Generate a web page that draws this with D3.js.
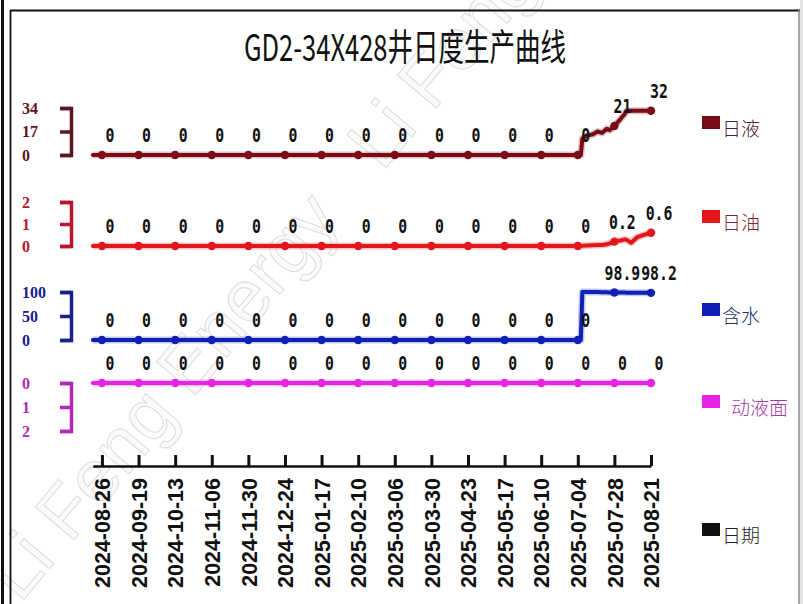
<!DOCTYPE html>
<html>
<head>
<meta charset="utf-8">
<script src="https://cdn.jsdelivr.net/npm/d3@7"></script>
<style>
body { margin: 0; background: #fff; }
</style>
</head>
<body>
<div class="diagram"></div>
<script>
const title = "GD2-34X428井日度生产曲线";

// sample dates (first one only starts the line, ticks carry markers + labels)
const dates = ["2024-08-20", "2024-08-26", "2024-09-19", "2024-10-13", "2024-11-06", "2024-11-30",
    "2024-12-24", "2025-01-17", "2025-02-10", "2025-03-06", "2025-03-30", "2025-04-23",
    "2025-05-17", "2025-06-10", "2025-07-04", "2025-07-06", "2025-07-07", "2025-07-10",
    "2025-07-14", "2025-07-17", "2025-07-20", "2025-07-23", "2025-07-25", "2025-07-28",
    "2025-08-01", "2025-08-04", "2025-08-05", "2025-08-08", "2025-08-12", "2025-08-16", "2025-08-21"];

const tickDates = ["2024-08-26", "2024-09-19", "2024-10-13", "2024-11-06", "2024-11-30", "2024-12-24",
    "2025-01-17", "2025-02-10", "2025-03-06", "2025-03-30", "2025-04-23", "2025-05-17",
    "2025-06-10", "2025-07-04", "2025-07-28", "2025-08-21"];

const liquid = [0, 0, 0, 0, 0, 0, 0, 0, 0, 0, 0, 0, 0, 0, 0,
    0, 12, 14, 15, 17, 16, 19, 18, 21, 26, 30, 32, 32, 32, 32, 32];
const oil = [0, 0, 0, 0, 0, 0, 0, 0, 0, 0, 0, 0, 0, 0, 0,
    0, 0.01, 0.02, 0.03, 0.04, 0.05, 0.08, 0.12, 0.2, 0.25, 0.3, 0.28, 0.15, 0.4, 0.5, 0.6];
const water = [0, 0, 0, 0, 0, 0, 0, 0, 0, 0, 0, 0, 0, 0, 0,
    0, 100, 100, 100, 99.8, 99.5, 99.3, 99.1, 98.9, 98.8, 98.7, 98.6, 98.5, 98.4, 98.3, 98.2];
const fluidLevel = [0, 0, 0, 0, 0, 0, 0, 0, 0, 0, 0, 0, 0, 0, 0,
    0, 0, 0, 0, 0, 0, 0, 0, 0, 0, 0, 0, 0, 0, 0, 0];

const seriesNames = ["日液", "日油", "含水", "动液面"];
const seriesValues = [liquid, oil, water, fluidLevel];
const axisTicks = [[0, 17, 34], [0, 1, 2], [0, 50, 100], [0, 1, 2]];
const legendNames = ["日液", "日油", "含水", "动液面", "日期"];

const lineColors = ["#7a0c18", "#e3161c", "#1020b4", "#e624e6"];
const axisColors = ["#5e1622", "#b8162c", "#18208e", "#b428b4"];
const legendBox = ["#7a0c18", "#e3161c", "#1020b4", "#e624e6", "#111"];
const legendText = ["#4a2232", "#7c2630", "#232f6c", "#a43aa6", "#222"];

// each band: y of value 0 and y of max value (fluid level is drawn downward)
const bands = [
    { zero: 155, top: 108 },
    { zero: 246, top: 202 },
    { zero: 340, top: 292 },
    { zero: 383, top: 431 }
];
const legendY = [122, 216, 309, 401, 529];

const width = 803, height = 604;
const parse = d3.utcParse("%Y-%m-%d");

const svg = d3.select(".diagram").append("svg")
    .attr("width", width).attr("height", height)
    .style("display", "block");

// watermark
svg.append("text")
    .attr("transform", "translate(20,604) rotate(-50)")
    .attr("xml:space", "preserve")
    .style("font-family", "Liberation Sans, sans-serif")
    .style("font-size", "74px")
    .style("fill", "#fbfbfb")
    .style("stroke", "#dedede")
    .style("stroke-width", 1.1)
    .text("Li Feng Energy   Li Feng");

// frame
svg.append("rect").attr("x", 1).attr("y", 0).attr("width", 3).attr("height", height).style("fill", "#111");
svg.append("line").attr("x1", 10.5).attr("x2", 10.5).attr("y1", 10).attr("y2", height).style("stroke", "#111").style("stroke-width", 1.8);
svg.append("line").attr("x1", 10).attr("x2", 800).attr("y1", 10.5).attr("y2", 10.5).style("stroke", "#111").style("stroke-width", 1.8);
svg.append("line").attr("x1", 799).attr("x2", 799).attr("y1", 10).attr("y2", height).style("stroke", "#888").style("stroke-width", 1.5);
svg.append("rect").attr("x", 800).attr("y", 0).attr("width", 3).attr("height", height).style("fill", "#e4e4e4");

// title
svg.append("text")
    .attr("x", 244).attr("y", 61)
    .attr("textLength", 322).attr("lengthAdjust", "spacingAndGlyphs")
    .style("font-family", "Noto Sans CJK SC, sans-serif")
    .style("font-size", "37px")
    .style("fill", "#111")
    .text(title);

const x = d3.scaleUtc()
    .domain([parse(dates[0]), parse(dates[dates.length - 1])])
    .range([92.8, 651]);

// x axis with upward ticks
const xAxis = svg.append("g")
    .attr("transform", "translate(0,466)")
    .call(d3.axisBottom(x)
        .tickValues(tickDates.map(parse))
        .tickSizeInner(-11).tickSizeOuter(0)
        .tickFormat(d3.utcFormat("%Y-%m-%d")));
xAxis.select(".domain").style("stroke", "#111").style("stroke-width", 2.5);
xAxis.selectAll(".tick line").style("stroke", "#111").style("stroke-width", 3);
xAxis.selectAll(".tick text")
    .attr("transform", "rotate(-90)")
    .attr("x", -12).attr("y", 0).attr("dy", "0.36em")
    .style("text-anchor", "end")
    .style("font-family", "Liberation Sans, Arial, sans-serif")
    .style("font-weight", "bold")
    .style("font-size", "21.5px")
    .style("fill", "#111");

const tickSet = new Set(tickDates);

seriesValues.forEach(function (values, k) {
    const band = bands[k];
    const ticks = axisTicks[k];
    const y = d3.scaleLinear().domain([0, ticks[ticks.length - 1]]).range([band.zero, band.top]);

    // bracket-shaped axis
    const yAxis = svg.append("g")
        .attr("transform", "translate(71,0)")
        .call(d3.axisLeft(y).tickValues(ticks).tickSizeInner(11).tickSizeOuter(11).tickFormat(""));
    yAxis.selectAll("path, line").style("stroke", axisColors[k]).style("stroke-width", 3.5);

    svg.selectAll(null).data(ticks).enter().append("text")
        .attr("x", 22).attr("y", d => y(d))
        .attr("dy", "0.36em")
        .style("font-family", "Liberation Serif, serif")
        .style("font-weight", "bold")
        .style("font-size", "16px")
        .style("fill", axisColors[k])
        .text(d => d);

    const points = dates.map((d, i) => ({ date: d, t: parse(d), v: values[i] }));
    const line = d3.line().x(d => x(d.t)).y(d => y(d.v));

    svg.append("path").datum(points)
        .attr("d", line)
        .style("fill", "none")
        .style("stroke", lineColors[k])
        .style("stroke-opacity", 0.25)
        .style("stroke-width", 7)
        .style("stroke-linejoin", "round");
    svg.append("path").datum(points)
        .attr("d", line)
        .style("fill", "none")
        .style("stroke", lineColors[k])
        .style("stroke-width", 4)
        .style("stroke-linejoin", "round")
        .style("stroke-linecap", "round");

    const marked = points.filter(d => tickSet.has(d.date));
    svg.selectAll(null).data(marked).enter().append("circle")
        .attr("cx", d => x(d.t)).attr("cy", d => y(d.v))
        .attr("r", 4.2)
        .style("fill", lineColors[k]);

    svg.selectAll(null).data(marked).enter().append("text")
        .attr("transform", d => "translate(" + (x(d.t) + 8) + "," + (y(d.v) - 13) + ") scale(0.78,1)")
        .style("text-anchor", "middle")
        .style("font-family", "DejaVu Sans Mono, monospace")
        .style("font-weight", "bold")
        .style("font-size", "19px")
        .style("fill", "#111")
        .text(d => String(d.v));
});

// legend
legendNames.forEach(function (name, k) {
    svg.append("rect")
        .attr("x", 702).attr("y", legendY[k] - 6)
        .attr("width", 18).attr("height", 13)
        .style("fill", legendBox[k]);
    svg.append("text")
        .attr("x", k === 3 ? 731 : 722).attr("y", legendY[k] + 7)
        .attr("dy", "0.36em")
        .style("font-family", "Noto Sans CJK SC, sans-serif")
        .style("font-weight", 300)
        .style("font-size", "19px")
        .style("fill", legendText[k])
        .text(name);
});
</script>
</body>
</html>
